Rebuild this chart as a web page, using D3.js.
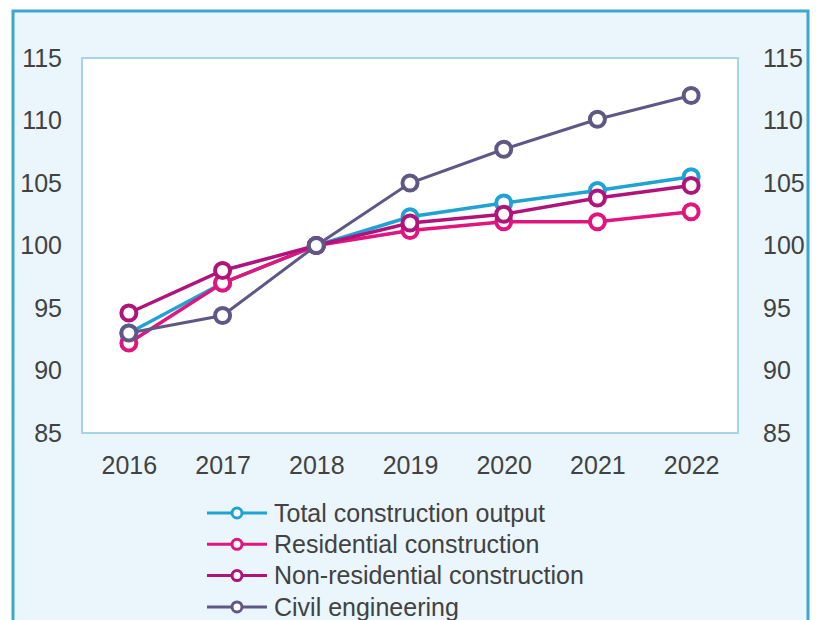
<!DOCTYPE html>
<html>
<head>
<meta charset="utf-8">
<script src="https://cdn.jsdelivr.net/npm/d3@7"></script>
<style>
  html, body { margin: 0; padding: 0; background: #fff; }
  svg { display: block; }
  text { font-family: "Liberation Sans", Arial, sans-serif; fill: #424242; }
</style>
</head>
<body>
<svg id="svg" width="817" height="620"></svg>
<script>
const WIDTH = 817
const HEIGHT = 620

const years = ['2016', '2017', '2018', '2019', '2020', '2021', '2022']
const yTicks = [85, 90, 95, 100, 105, 110, 115]
const seriesNames = ['Total construction output', 'Residential construction', 'Non-residential construction', 'Civil engineering']
const totalOutput = [93.0, 97.0, 100, 102.3, 103.4, 104.4, 105.5]
const residential = [92.2, 97.0, 100, 101.2, 101.9, 101.9, 102.7]
const nonResidential = [94.6, 98.0, 100, 101.8, 102.5, 103.8, 104.8]
const civilEngineering = [93.0, 94.4, 100, 105.0, 107.7, 110.1, 112.0]
const seriesColors = ['#1fa3d3', '#e0157d', '#b0147a', '#5f5886']

const series = [totalOutput, residential, nonResidential, civilEngineering]

const PLOT = { left: 82, top: 58, right: 738, bottom: 433 }

const SVG = d3.select('#svg')

// outer panel
SVG.append('rect')
  .attr('x', 13)
  .attr('y', 11)
  .attr('width', 795)
  .attr('height', 700)
  .attr('fill', '#eaf5fc')
  .attr('stroke', '#3da8cd')
  .attr('stroke-width', 3)

// plot area
SVG.append('rect')
  .attr('x', PLOT.left)
  .attr('y', PLOT.top)
  .attr('width', PLOT.right - PLOT.left)
  .attr('height', PLOT.bottom - PLOT.top)
  .attr('fill', '#ffffff')
  .attr('stroke', '#a6d6e6')
  .attr('stroke-width', 2)

const x = d3.scalePoint()
  .domain(years)
  .range([PLOT.left, PLOT.right])
  .padding(0.5)

const y = d3.scaleLinear()
  .domain([85, 115])
  .range([PLOT.bottom, PLOT.top])

const styleAxis = g => {
  g.select('.domain').remove()
  g.selectAll('line').remove()
  g.selectAll('text')
    .attr('font-size', 25)
    .attr('fill', '#424242')
}

SVG.append('g')
  .attr('transform', `translate(${PLOT.left}, 0)`)
  .call(d3.axisLeft(y).tickValues(yTicks).tickSize(0).tickPadding(20))
  .call(styleAxis)

SVG.append('g')
  .attr('transform', `translate(${PLOT.right}, 0)`)
  .call(d3.axisRight(y).tickValues(yTicks).tickSize(0).tickPadding(25))
  .call(styleAxis)

SVG.append('g')
  .attr('transform', `translate(0, ${PLOT.bottom})`)
  .call(d3.axisBottom(x).tickSize(0).tickPadding(23))
  .call(styleAxis)

const line = d3.line()
  .x((d, i) => x(years[i]))
  .y(d => y(d))

series.forEach((values, s) => {
  const g = SVG.append('g')
  g.append('path')
    .datum(values)
    .attr('d', line)
    .attr('fill', 'none')
    .attr('stroke', seriesColors[s])
    .attr('stroke-width', s === 3 ? 3 : 3.5)

  g.selectAll('circle')
    .data(values)
    .enter()
    .append('circle')
    .attr('cx', (d, i) => x(years[i]))
    .attr('cy', d => y(d))
    .attr('r', 7.5)
    .attr('fill', '#ffffff')
    .attr('stroke', seriesColors[s])
    .attr('stroke-width', 4)
})

// legend
const legend = SVG.append('g')
  .selectAll('g')
  .data(seriesNames)
  .enter()
  .append('g')
  .attr('transform', (d, i) => `translate(207, ${513 + i * 31.3})`)

legend.append('line')
  .attr('x1', 0)
  .attr('x2', 60)
  .attr('stroke', (d, i) => seriesColors[i])
  .attr('stroke-width', 3)

legend.append('circle')
  .attr('cx', 30)
  .attr('r', 5)
  .attr('fill', '#ffffff')
  .attr('stroke', (d, i) => seriesColors[i])
  .attr('stroke-width', 3)

legend.append('text')
  .text(d => d)
  .attr('x', 67)
  .attr('dy', '0.35em')
  .attr('font-size', 25)
</script>
</body>
</html>
